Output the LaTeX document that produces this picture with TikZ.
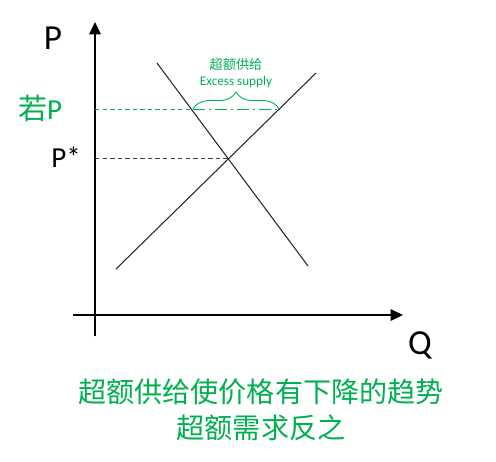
\documentclass[tikz,border=0pt]{standalone}
\usepackage{fontspec}
\setmainfont{Carlito}
\newfontfamily\cjk{Noto Sans CJK SC}
\usetikzlibrary{positioning,arrows.meta,calc,decorations.pathreplacing}
\definecolor{officegreen}{RGB}{0,176,80}

\begin{document}
\begin{tikzpicture}[
  x=0.02cm, y=-0.02cm,
  >={Triangle[length=7pt,width=6.5pt]},
  axis/.style={->, line width=0.8pt},
  curve/.style={line width=0.6pt, black!85},
  guide/.style={line width=0.55pt, dash pattern=on 2.5pt off 1.8pt},
  lbl/.style={inner sep=0pt, font=\fontsize{20}{24}\selectfont},
  note/.style={inner sep=0pt, text=officegreen, align=center}]
  \useasboundingbox (0,0) rectangle (496,461);
  % axes
  \coordinate (o1) at (95,336);
  \coordinate (ptop) at (95,22);
  \coordinate (o2) at (73,315);
  \coordinate (qend) at (403,315);
  \draw[axis] (o1) -- (ptop);
  \draw[axis] (o2) -- (qend);
  \node[lbl] (plab) at (53,38) {P};
  \node[lbl] (qlab) at (420,345) {Q};
  % demand and supply
  \coordinate (d1) at (157,63);
  \coordinate (d2) at (308,266);
  \coordinate (s1) at (116,269);
  \coordinate (s2) at (316,73);
  \draw[curve] (d1) -- (d2);
  \draw[curve] (s1) -- (s2);
  \coordinate (eq) at (229,158);
  \coordinate (peq) at (95,158);
  \coordinate (ph) at (95,109);
  \coordinate (dh) at (193,109);
  \coordinate (sh) at (279,109);
  % price levels
  \draw[guide, black!75] (peq) -- (eq);
  \node[lbl, font=\fontsize{16.5}{19}\selectfont] (pstar) at (66,157) {P*};
  \draw[guide, officegreen] (ph) -- (dh);
  \draw[officegreen, line width=0.55pt, dash pattern=on 7pt off 2pt on 1.5pt off 2pt] (dh) -- (sh);
  \node[lbl, text=officegreen, font=\fontsize{16.5}{19}\selectfont] (pif) at (40,108) {{\cjk 若}P};
  % excess supply
  \draw[officegreen, line width=0.5pt, decorate,
        decoration={brace, amplitude=0.34cm}] (dh) -- (sh);
  \node[note, font=\fontsize{7.5}{9}\selectfont] (exs) at (236,82) {Excess supply};
  \node[note, font=\cjk\fontsize{7.5}{9}\selectfont, above=3pt of exs] (exscn) {超额供给};
  % conclusion
  \node[note, font=\cjk\fontsize{16}{18}\selectfont] (c1) at (261,392) {超额供给使价格有下降的趋势};
  \node[note, font=\cjk\fontsize{16}{18}\selectfont, below=5pt of c1] (c2) {超额需求反之};
\end{tikzpicture}
\end{document}
